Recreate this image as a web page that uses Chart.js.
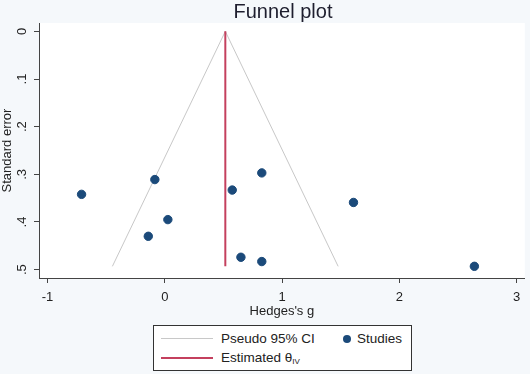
<!DOCTYPE html>
<html>
<head>
<meta charset="utf-8">
<script src="https://cdn.jsdelivr.net/npm/chart.js@4.4.1/dist/chart.umd.min.js"></script>
<style>
  html, body { margin: 0; padding: 0; background: #f5f8fb; }
  #wrap { position: relative; width: 530px; height: 374px; font-family: "Liberation Sans", Arial, sans-serif; color: #222; }
  #chart { position: absolute; left: 0; top: 0; }
  #title { position: absolute; left: 39px; width: 488px; top: 0; height: 22px; line-height: 22px; text-align: center; font-size: 20px; color: #1e1e2e; }
  #legend { position: absolute; left: 153px; top: 325px; width: 257px; height: 44px; border: 1px solid #333; background: #fff; font-size: 13.5px; }
  .row { position: absolute; left: 0; height: 18px; line-height: 18px; white-space: nowrap; }
  .sample { position: absolute; left: 7px; width: 52px; top: 8px; }
  .lbl { position: absolute; left: 67px; top: 0; }
  .dot { position: absolute; left: 189px; top: 5px; width: 8px; height: 8px; border-radius: 50%; background: #1b4a7a; }
  .lbl2 { position: absolute; left: 203px; top: 0; }
  sub { font-size: 8px; vertical-align: -2px; }
</style>
</head>
<body>
<div id="wrap">
  <canvas id="chart" width="530" height="374"></canvas>
  <div id="title">Funnel plot</div>
  <div id="legend">
    <div class="row" style="top:4px;width:255px">
      <div class="sample" style="border-top:1px solid #c8c8c8"></div>
      <div class="lbl">Pseudo 95% CI</div>
      <div class="dot"></div>
      <div class="lbl2">Studies</div>
    </div>
    <div class="row" style="top:23px;width:255px">
      <div class="sample" style="border-top:2px solid #c4405e"></div>
      <div class="lbl">Estimated θ<sub>IV</sub></div>
    </div>
  </div>
</div>
<script>
// values
const studyG = [-0.71, -0.085, 0.026, -0.141, 0.575, 0.827, 0.649, 0.827, 1.609, 2.64];
const studySE = [0.342, 0.311, 0.395, 0.430, 0.333, 0.297, 0.474, 0.483, 0.359, 0.493];
const pooledG = [0.516, 0.516];
const pooledSE = [0, 0.493];
const funnelG = [-0.447, 0.516, 1.478];
const funnelSE = [0.493, 0, 0.493];
const xTicks = [-1, 0, 1, 2, 3];
const yTicks = [0, 0.1, 0.2, 0.3, 0.4, 0.5];
const yTickLabels = ['0', '.1', '.2', '.3', '.4', '.5'];

const toPoints = (xs, ys) => xs.map((x, i) => ({ x: x, y: ys[i] }));

const FONT = '"Liberation Sans", Arial, sans-serif';

// white plot region on a pale background
const bgPlugin = {
    id: 'bg',
    beforeDraw(chart) {
        const { ctx, chartArea } = chart;
        ctx.save();
        ctx.fillStyle = '#f5f8fb';
        ctx.fillRect(0, 0, chart.width, chart.height);
        ctx.fillStyle = '#ffffff';
        ctx.fillRect(chartArea.left, chartArea.top, chartArea.right - chartArea.left, chartArea.bottom - chartArea.top);
        ctx.restore();
    }
};

// y tick labels are rotated in the original, Chart.js won't rotate vertical ticks
const yLabelPlugin = {
    id: 'ylabels',
    afterDraw(chart) {
        const { ctx } = chart;
        const y = chart.scales.y;
        ctx.save();
        ctx.fillStyle = '#222';
        ctx.font = '13px ' + FONT;
        ctx.textAlign = 'center';
        ctx.textBaseline = 'middle';
        yTicks.forEach((v, i) => {
            const py = y.getPixelForValue(v);
            ctx.save();
            ctx.translate(y.right - 17, py);
            ctx.rotate(-Math.PI / 2);
            ctx.fillText(yTickLabels[i], 0, 0);
            ctx.restore();
        });
        ctx.restore();
    }
};

new Chart(document.getElementById('chart'), {
    type: 'scatter',
    data: {
        datasets: [
            {
                label: 'Studies',
                data: toPoints(studyG, studySE),
                backgroundColor: '#1b4a7a',
                borderColor: '#1b4a7a',
                pointRadius: 4.2,
                order: 0
            },
            {
                label: 'Estimated',
                data: toPoints(pooledG, pooledSE),
                showLine: true,
                borderColor: '#c4405e',
                borderWidth: 2,
                pointRadius: 0,
                order: 1
            },
            {
                label: 'Pseudo 95% CI',
                data: toPoints(funnelG, funnelSE),
                showLine: true,
                borderColor: '#c8c8c8',
                borderWidth: 1,
                pointRadius: 0,
                order: 2
            }
        ]
    },
    options: {
        responsive: false,
        animation: false,
        layout: { padding: { left: 0, right: 3, top: 23, bottom: 53 } },
        plugins: {
            legend: { display: false },
            tooltip: { enabled: false },
            title: { display: false }
        },
        scales: {
            x: {
                type: 'linear',
                min: -1.073,
                max: 3.07,
                afterBuildTicks: (scale) => { scale.ticks = xTicks.map(v => ({ value: v })); },
                afterFit: (scale) => { scale.height = 43; },
                border: { display: true, color: '#444', width: 1 },
                grid: { drawOnChartArea: false, drawTicks: true, tickLength: 5, color: '#444' },
                ticks: { color: '#222', font: { family: FONT, size: 13 }, padding: 7, maxRotation: 0 },
                title: {
                    display: true,
                    text: "Hedges's g",
                    color: '#222',
                    font: { family: FONT, size: 13 },
                    padding: { top: 0, bottom: 2 }
                }
            },
            y: {
                type: 'linear',
                reverse: true,
                min: -0.0175,
                max: 0.5175,
                afterBuildTicks: (scale) => { scale.ticks = yTicks.map(v => ({ value: v })); },
                afterFit: (scale) => { scale.width = 39; },
                border: { display: true, color: '#444', width: 1 },
                grid: { drawOnChartArea: false, drawTicks: true, tickLength: 5, color: '#444' },
                ticks: { display: false },
                title: {
                    display: true,
                    text: 'Standard error',
                    color: '#222',
                    font: { family: FONT, size: 13 },
                    padding: { top: 0, bottom: 0 }
                }
            }
        }
    },
    plugins: [bgPlugin, yLabelPlugin]
});
</script>
</body>
</html>
